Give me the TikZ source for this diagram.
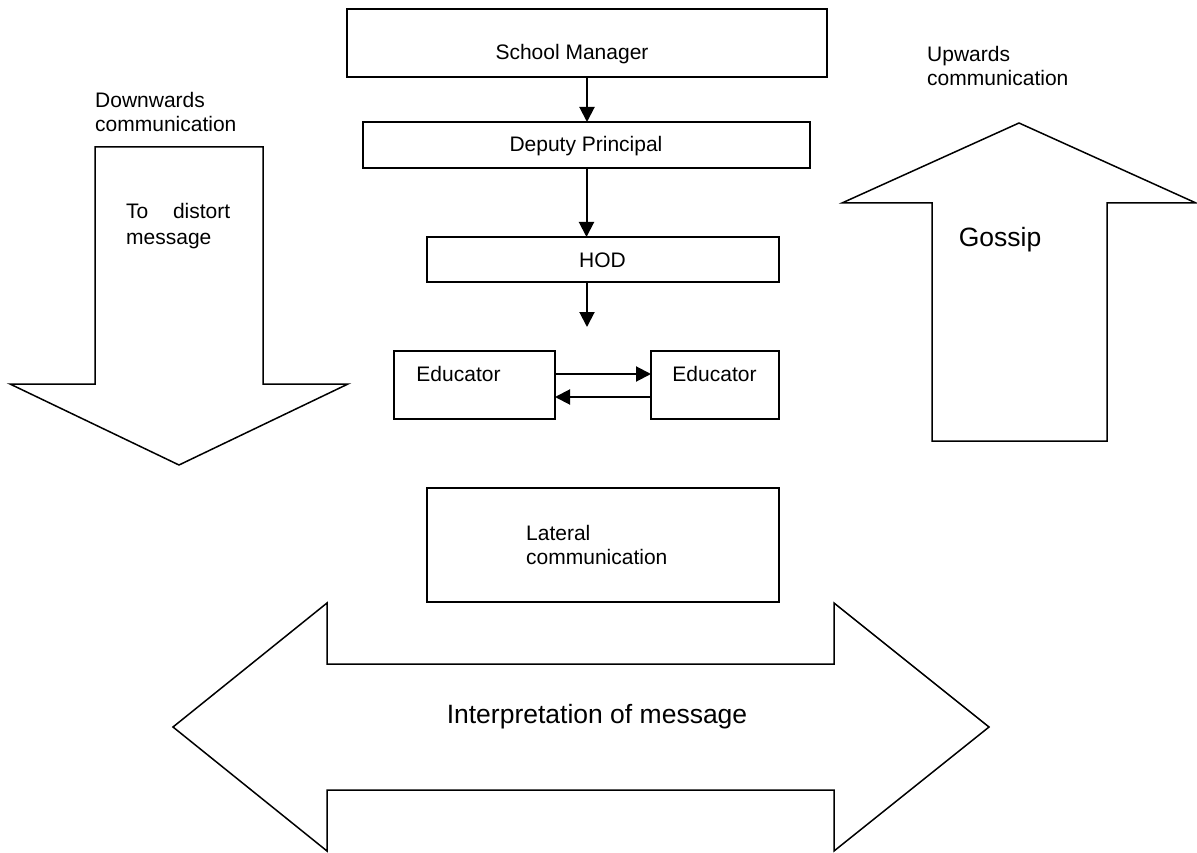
\documentclass[tikz,border=0pt]{standalone}
\usepackage{fontspec}
\setmainfont{Liberation Sans}
\usetikzlibrary{arrows.meta}
\begin{document}
\begin{tikzpicture}[x=1pt,y=-1pt,
  box/.style={draw,line width=2pt,inner sep=0pt,outer sep=0pt},
  conn/.style={line width=2pt,-{Triangle[length=15pt,width=15pt]}},
  bigarrow/.style={draw,line width=1.5pt,line join=miter},
  txt/.style={inner sep=0pt,font=\fontsize{21}{24}\selectfont},
  bigtxt/.style={inner sep=0pt,font=\fontsize{26.5}{30}\selectfont}]
\useasboundingbox (0,0) rectangle (1197,853);

% hierarchy boxes
\node[box,minimum width=480pt,minimum height=68pt] (sm) at (587,43) {};
\node[txt] (smt) at (572,54) {School Manager};
\node[box,minimum width=447pt,minimum height=46pt] (dp) at (586.5,145) {};
\node[txt] (dpt) at (586,146) {Deputy Principal};
\node[box,minimum width=352pt,minimum height=45pt] (hod) at (603,259.5) {};
\node[txt] (hodt) at (602.5,260) {HOD};
\coordinate (e3) at (587,327);

\draw[conn] (sm.south) -- (sm.south |- dp.north);
\draw[conn] (dp.south) -- (dp.south |- hod.north);
\draw[conn] (hod.south -| e3) -- (e3);

% educators
\node[box,minimum width=161pt,minimum height=68pt] (ed1) at (474.5,385) {};
\node[txt] (ed1t) at (458.5,374) {Educator};
\node[box,minimum width=128pt,minimum height=68pt] (ed2) at (715,385) {};
\node[txt] (ed2t) at (714.5,374) {Educator};
\draw[conn] ([yshift=11pt]ed1.east) -- ([yshift=11pt]ed2.west);
\draw[conn] ([yshift=-12pt]ed2.west) -- ([yshift=-12pt]ed1.east);

% lateral communication
\node[box,minimum width=352pt,minimum height=114pt] (lat) at (603,545) {};
\node[txt,anchor=west,align=left] (latt) at (526,545) {Lateral\\communication};

% downwards arrow
\draw[bigarrow] (95,147) -- (263,147) -- (263,384) -- (348,384) -- (179,465)
  -- (10,384) -- (95,384) -- cycle;
\node[txt,anchor=west,align=left] (downt) at (95,112) {Downwards\\communication};
\node[txt,anchor=west,text width=104pt,align=left,
  font=\fontsize{21}{26}\selectfont] (dist) at (126,226) {To\hfill distort\\message};

% upwards arrow
\draw[bigarrow] (932,441) -- (932,203) -- (842,203) -- (1019,123) -- (1196,203)
  -- (1107,203) -- (1107,441) -- cycle;
\node[txt,anchor=west,align=left] (upt) at (927,66) {Upwards\\communication};
\node[bigtxt] (gos) at (1000,240) {Gossip};

% interpretation double arrow
\draw[bigarrow] (173,727) -- (327,603) -- (327,664) -- (834,664) -- (834,603)
  -- (989,727) -- (834,851) -- (834,790) -- (327,790) -- (327,851) -- cycle;
\node[bigtxt] (interp) at (597,717) {Interpretation of message};
\end{tikzpicture}
\end{document}
